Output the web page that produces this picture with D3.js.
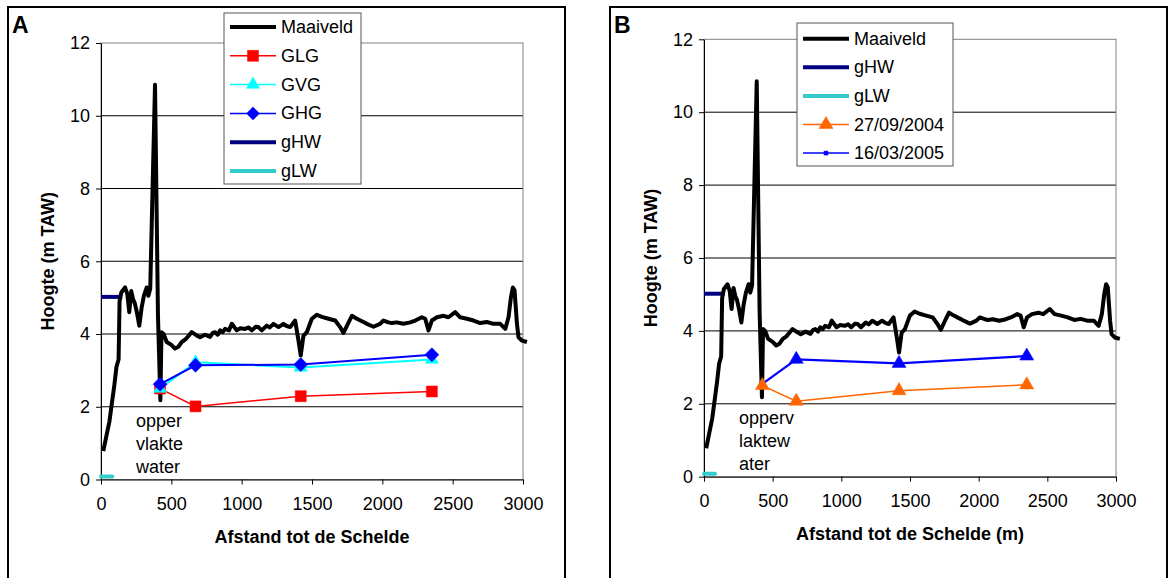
<!DOCTYPE html>
<html><head><meta charset="utf-8">
<script src="https://cdn.jsdelivr.net/npm/d3@7"></script>
<style>
body{margin:0;background:#fff;}
text{font-family:"Liberation Sans",Arial,sans-serif;}
</style></head>
<body><svg id="c" width="1174" height="578"></svg>
<script>
// ---- data ----
const xTicks = [0,500,1000,1500,2000,2500,3000];
const yTicks = [0,2,4,6,8,10,12];
const maaiveldX = [16,60,95,110,125,132,145,171,187,201,215,228,240,255,272,289,305,325,337,350,384,405,422,430,445,467,500,526,550,574,600,645,680,704,740,775,795,811,830,847,865,882,910,930,965,990,1024,1050,1072,1100,1119,1143,1178,1200,1226,1262,1297,1320,1345,1380,1404,1420,1439,1463,1499,1534,1570,1617,1665,1700,1724,1760,1784,1819,1866,1890,1937,1984,2008,2044,2067,2103,2150,2198,2234,2281,2305,2328,2352,2388,2435,2470,2518,2553,2601,2648,2696,2743,2790,2838,2874,2897,2914,2928,2940,2957,2968,2992,3028];
const maaiveldY = [0.78,1.6,2.6,3.1,3.3,4.9,5.15,5.28,5.1,4.6,5.18,4.95,4.85,4.6,4.23,4.73,5.05,5.28,5.05,5.25,10.85,4.5,2.18,4.05,4.0,3.78,3.7,3.6,3.65,3.78,3.85,4.05,3.96,3.91,3.98,3.92,4.03,4.05,3.98,4.1,4.05,4.14,4.1,4.28,4.1,4.16,4.14,4.18,4.1,4.2,4.19,4.1,4.23,4.18,4.28,4.19,4.28,4.22,4.19,4.37,3.82,3.41,3.95,4.05,4.42,4.53,4.47,4.42,4.37,4.19,4.03,4.32,4.5,4.42,4.33,4.28,4.2,4.28,4.37,4.32,4.3,4.32,4.28,4.32,4.37,4.46,4.42,4.1,4.37,4.46,4.5,4.46,4.6,4.46,4.42,4.37,4.3,4.33,4.28,4.28,4.14,4.46,5.0,5.28,5.2,4.28,3.91,3.82,3.78];
const gHWX = [0,150], gHWY = [5.02,5.02];
const gLWX = [0,80], gLWY = [0.08,0.08];
const wellX = [420,672,1420,2352];
const GLG = [2.5,2.01,2.29,2.42];
const GVG = [2.5,3.22,3.08,3.3];
const GHG = [2.62,3.14,3.16,3.43];
const dateX = [425,672,1420,2350];
const d20040927 = [2.5,2.07,2.36,2.52];
const d20050316 = [2.55,3.22,3.11,3.31];
const annA = ["opper","vlakte","water"];
const annB = ["opperv","laktew","ater"];

const svg = d3.select("#c");
const F = '"Liberation Sans",Arial,sans-serif';
const FS = 18;

function pts(xs, ys){ return xs.map((v,i)=>[v, ys[i]]); }

function marker(g, type, x, y, color, size){
  let sym, rot = 0;
  if(type==="square") sym = d3.symbol().type(d3.symbolSquare).size(size*size);
  else if(type==="diamond"){ sym = d3.symbol().type(d3.symbolSquare).size(size*size/2); rot=45; }
  else sym = d3.symbol().type(d3.symbolTriangle).size(Math.sqrt(3)/4*size*size);
  g.append("path").attr("d", sym()).attr("transform", `translate(${x},${y}) rotate(${rot})`)
    .attr("fill", color).attr("stroke", color).attr("stroke-width", 0.5);
}

function panel(cfg){
  const g = svg.append("g");
  g.append("rect").attr("x", cfg.frame[0]).attr("y", 7).attr("width", cfg.frame[1]-cfg.frame[0])
    .attr("height", 600).attr("fill","none").attr("stroke","#000").attr("stroke-width",2);
  g.append("text").attr("x", cfg.frame[0]+4).attr("y", 33).attr("font-size", 23).attr("font-weight","bold").text(cfg.letter);
  const x = d3.scaleLinear().domain([0,3000]).range(cfg.xr);
  const y = d3.scaleLinear().domain([0,12]).range(cfg.yr);
  g.selectAll(".grid").data([2,4,6,8,10]).enter().append("line")
    .attr("x1", cfg.xr[0]).attr("x2", cfg.xr[1]).attr("y1", d=>y(d)).attr("y2", d=>y(d))
    .attr("stroke","#000").attr("stroke-width",1);
  g.append("rect").attr("x", cfg.xr[0]).attr("y", cfg.yr[1]).attr("width", cfg.xr[1]-cfg.xr[0])
    .attr("height", cfg.yr[0]-cfg.yr[1]).attr("fill","none").attr("stroke","#808080").attr("stroke-width",1);
  const ya = g.append("g").attr("transform", `translate(${cfg.xr[0]},0)`)
    .call(d3.axisLeft(y).tickValues(yTicks).tickSize(5).tickSizeOuter(0).tickPadding(6).tickFormat(d3.format("d")));
  const xa = g.append("g").attr("transform", `translate(0,${cfg.yr[0]})`)
    .call(d3.axisBottom(x).tickValues(xTicks).tickSize(5).tickSizeOuter(0).tickPadding(13).tickFormat(d3.format("d")));
  [ya, xa].forEach(a=>{
    a.selectAll("text").attr("font-size", FS).attr("font-family", F).attr("fill","#000");
    a.selectAll("line,path").attr("stroke","#000");
  });
  g.append("text").attr("transform", `translate(${cfg.xr[0]-47},${(cfg.yr[0]+cfg.yr[1])/2}) rotate(-90)`)
    .attr("text-anchor","middle").attr("font-size",FS).attr("font-weight","bold").text("Hoogte (m TAW)");
  g.append("text").attr("x", cfg.xlabX).attr("y", cfg.yr[0]+63).attr("text-anchor","middle")
    .attr("font-size",FS).attr("font-weight","bold").text(cfg.xlabel);

  const line = d3.line().x(d=>x(d[0])).y(d=>y(d[1]));
  const plot = g.append("g");
  plot.append("path").datum(pts(gHWX,gHWY)).attr("d", line).attr("fill","none").attr("stroke","#000080").attr("stroke-width",4);
  plot.append("path").datum(pts(gLWX,gLWY)).attr("d", line).attr("fill","none").attr("stroke","#33CCCC").attr("stroke-width",4).attr("stroke-linecap","round");
  plot.append("path").datum(pts(maaiveldX,maaiveldY)).attr("d", line).attr("fill","none").attr("stroke","#000").attr("stroke-width",4).attr("stroke-linejoin","round");
  cfg.series.forEach(s=>{
    plot.append("path").datum(pts(s.xs, s.ys)).attr("d", line).attr("fill","none").attr("stroke", s.color).attr("stroke-width", s.lw);
  });
  cfg.series.forEach(s=>{
    pts(s.xs, s.ys).forEach((d,i)=>marker(plot, (s.mk0 && i===0)? s.mk0 : s.marker, x(d[0]), y(d[1]), s.color, (s.mk0 && i===0)? s.size0 : s.size));
  });
  cfg.ann.forEach((t,i)=>{
    g.append("text").attr("x", cfg.xr[0]+35).attr("y", cfg.yr[0]-53+i*23).attr("font-size",FS).text(t);
  });
  const L = cfg.legend;
  g.append("rect").attr("x", L.x0).attr("y", L.y0).attr("width", L.x1-L.x0).attr("height", L.y1-L.y0)
    .attr("fill","#fff").attr("stroke","#555").attr("stroke-width",1);
  L.items.forEach((it,i)=>{
    const yy = L.first + i*L.step;
    g.append("line").attr("x1", L.lx).attr("x2", L.lx+46).attr("y1", yy).attr("y2", yy)
      .attr("stroke", it.color).attr("stroke-width", it.lw);
    if(it.marker) marker(g, it.marker, L.lx+23, yy, it.color, it.size);
    g.append("text").attr("x", L.lx+51).attr("y", yy+6).attr("font-size",FS).text(it.name);
  });
}

panel({
  letter:"A", frame:[8,565], xr:[101,523], yr:[479.5,43], xlabX:312, xlabel:"Afstand tot de Schelde",
  ann: annA,
  series:[
    {xs:wellX, ys:GLG, color:"#FF0000", lw:1.5, marker:"square", size:11},
    {xs:wellX, ys:GVG, color:"#00FFFF", lw:2, marker:"triangle", size:13},
    {xs:wellX, ys:GHG, color:"#0000FF", lw:2, marker:"diamond", size:14}
  ],
  legend:{x0:224,y0:13,x1:361,y1:184,lx:230,first:27,step:28.8,items:[
    {name:"Maaiveld", color:"#000", lw:4},
    {name:"GLG", color:"#FF0000", lw:1.5, marker:"square", size:11},
    {name:"GVG", color:"#00FFFF", lw:1.5, marker:"triangle", size:13},
    {name:"GHG", color:"#0000FF", lw:1.5, marker:"diamond", size:13},
    {name:"gHW", color:"#000080", lw:4},
    {name:"gLW", color:"#33CCCC", lw:4}
  ]}
});

panel({
  letter:"B", frame:[610,1167], xr:[704,1116], yr:[476.7,39.3], xlabX:910, xlabel:"Afstand tot de Schelde (m)",
  ann: annB,
  series:[
    {xs:dateX, ys:d20050316, color:"#0000FF", lw:2.2, marker:"triangle", size:14, mk0:"square", size0:5},
    {xs:dateX, ys:d20040927, color:"#FF6600", lw:1.5, marker:"triangle", size:14}
  ],
  legend:{x0:797,y0:23,x1:953,y1:166,lx:803,first:38.7,step:28.6,items:[
    {name:"Maaiveld", color:"#000", lw:4},
    {name:"gHW", color:"#000080", lw:4},
    {name:"gLW", color:"#33CCCC", lw:4},
    {name:"27/09/2004", color:"#FF6600", lw:1.5, marker:"triangle", size:14},
    {name:"16/03/2005", color:"#0000FF", lw:1.5, marker:"square", size:4}
  ]}
});
</script></body></html>
